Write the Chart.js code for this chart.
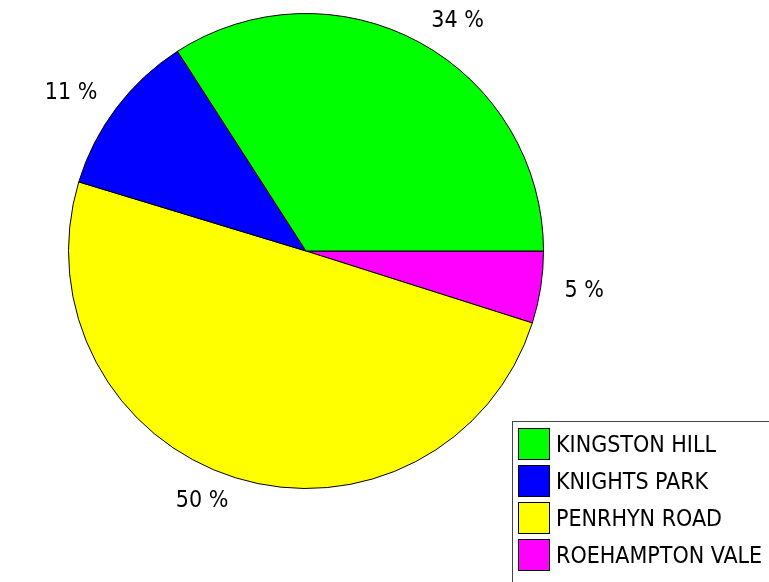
<!DOCTYPE html>
<html>
<head>
<meta charset="utf-8">
<script src="https://cdn.jsdelivr.net/npm/chart.js@4.4.1/dist/chart.umd.min.js"></script>
<style>
    body { margin:0; background:#fff; overflow:hidden; }
    #wrap { position:relative; width:769px; height:582px; }
    #leyenda {
        position:absolute; left:512px; top:421px; width:300px; height:200px;
        border:1px solid #444; box-sizing:border-box;
        font-family:"DejaVu Sans Condensed", "DejaVu Sans", sans-serif; font-stretch:condensed;
        font-size:23px; color:#000;
    }
    .fila { position:absolute; left:5px; height:33px; display:flex; align-items:center; }
    .caja { width:32px; height:32px; border:1px solid #000; box-sizing:border-box; margin-right:6px; }
</style>
</head>
<body>
<div id="wrap">
    <canvas id="grafica" width="769" height="582"></canvas>
    <div id="leyenda"></div>
</div>
<script>
const categorias = ["KINGSTON HILL", "KNIGHTS PARK", "PENRHYN ROAD", "ROEHAMPTON VALE"];
const valores = [34.1, 11.2, 49.8, 4.9];
const colores = ["#00FF00", "#0000FF", "#FFFF00", "#FF00FF"];

// la tarta se dibuja en sentido horario desde las 3, asi que invertimos el orden
const catGraf = categorias.slice().reverse();
const valGraf = valores.slice().reverse();
const colGraf = colores.slice().reverse();

const etiquetas = {
    id: 'etiquetas',
    afterDraw(chart) {
        const ctx = chart.ctx;
        const meta = chart.getDatasetMeta(0);
        ctx.save();
        ctx.font = 'condensed 23px "DejaVu Sans Condensed", "DejaVu Sans", sans-serif';
        ctx.fillStyle = '#000';
        ctx.textBaseline = 'middle';
        meta.data.forEach((arc, i) => {
            const p = arc.getProps(['x', 'y', 'startAngle', 'endAngle', 'outerRadius']);
            const mid = (p.startAngle + p.endAngle) / 2;
            const r = p.outerRadius + 24;
            const x = p.x + Math.cos(mid) * r;
            const y = p.y + Math.sin(mid) * r;
            ctx.textAlign = Math.cos(mid) >= 0 ? 'left' : 'right';
            ctx.fillText(Math.round(valGraf[i]) + ' %', x, y);
        });
        ctx.restore();
    }
};

new Chart(document.getElementById("grafica"), {
    type: 'pie',
    data: {
        labels: catGraf,
        datasets: [{
            data: valGraf,
            backgroundColor: colGraf,
            borderColor: '#000',
            borderWidth: 1
        }]
    },
    options: {
        responsive: false,
        animation: false,
        rotation: 90,
        layout: { padding: { left: 68, right: 225, top: 13, bottom: 93 } },
        plugins: { legend: { display: false }, tooltip: { enabled: false } }
    },
    plugins: [etiquetas]
});

const leyenda = document.getElementById("leyenda");
categorias.forEach((cat, i) => {
    const fila = document.createElement("div");
    fila.className = "fila";
    fila.style.top = (5 + i * 37) + "px";
    fila.innerHTML = `<div class="caja" style="background:${colores[i]}"></div><span>${cat}</span>`;
    leyenda.appendChild(fila);
});
</script>
</body>
</html>
